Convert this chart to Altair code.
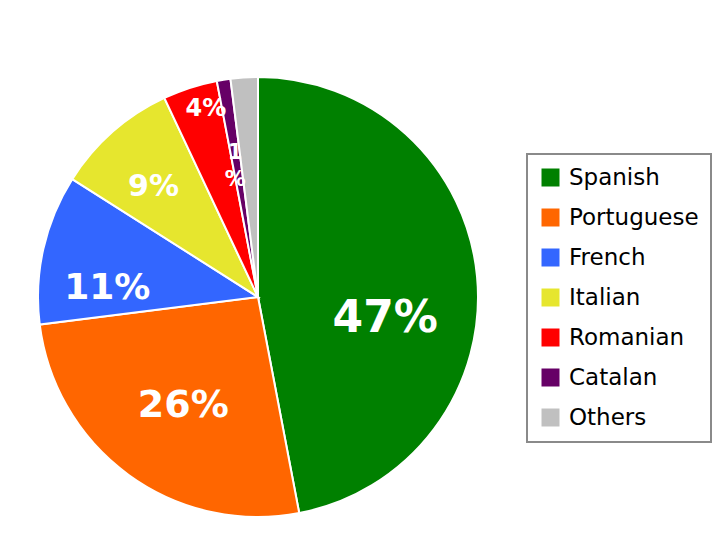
import altair as alt
import pandas as pd

# ---- data ----
languages = ["Spanish", "Portuguese", "French", "Italian", "Romanian", "Catalan", "Others"]
shares = [47, 26, 11, 9, 4, 1, 2]
labels = ["47%", "26%", "11%", "9%", "4%", "1\n%", ""]

# ---- styles ----
colors = ["#008000", "#FF6600", "#3366FF", "#E6E62E", "#FF0000", "#660066", "#C0C0C0"]
label_sizes = [44, 38, 36, 30, 24, 21, 0]
label_shift_deg = [15, -1.5, -9, -2, 2.5, 0, 0]
label_radius = [129, 132, 151, 152, 195, 146, 0]

CX, CY, R = 250, 289, 220

df = pd.DataFrame({
    "language": languages,
    "share": shares,
    "label": labels,
    "idx": list(range(len(languages))),
    "fsize": label_sizes,
    "shift": label_shift_deg,
    "lr": label_radius,
})

color_scale = alt.Scale(domain=languages, range=colors)

pie = alt.Chart(df).mark_arc(outerRadius=R, stroke="white", strokeWidth=2).encode(
    theta=alt.Theta("share:Q", stack=True),
    color=alt.Color(
        "language:N",
        scale=color_scale,
        sort=languages,
        legend=alt.Legend(
            title=None,
            orient="none",
            legendX=519,
            legendY=146,
            symbolType="square",
            symbolSize=324,
            symbolStrokeWidth=0,
            labelFont="DejaVu Sans",
            labelFontSize=23,
            labelColor="#000000",
            labelOffset=7,
            padding=12,
            rowPadding=16,
            strokeColor="#8a8a8a",
            fillColor="white",
        ),
    ),
    order=alt.Order("idx:Q"),
    x=alt.value(CX),
    y=alt.value(CY),
)

text = alt.Chart(df).transform_window(
    cum="sum(share)", sort=[alt.SortField("idx")], frame=[None, 0]
).transform_joinaggregate(
    total="sum(share)"
).transform_calculate(
    ang="((datum.cum - datum.share / 2) / datum.total * 360 + datum.shift) * PI / 180",
).transform_calculate(
    px=f"{CX} + datum.lr * sin(datum.ang)",
    py=f"{CY} - datum.lr * cos(datum.ang)",
).transform_filter(
    "datum.label != ''"
).mark_text(
    font="DejaVu Sans", fontWeight="bold", color="white",
    align="center", baseline="middle", lineBreak="\n", lineHeight=27,
).encode(
    x=alt.X("px:Q", scale=None, axis=None),
    y=alt.Y("py:Q", scale=None, axis=None),
    text="label:N",
    size=alt.Size("fsize:Q", scale=None, legend=None),
)

chart = alt.layer(pie, text).properties(
    width=704, height=524,
    autosize=alt.AutoSizeParams(type="none"),
    padding=0,
    background="white",
).configure_view(stroke=None).configure_legend(strokeWidth=2)

chart.save("out.html", embed_options={"renderer": "svg", "actions": False})
